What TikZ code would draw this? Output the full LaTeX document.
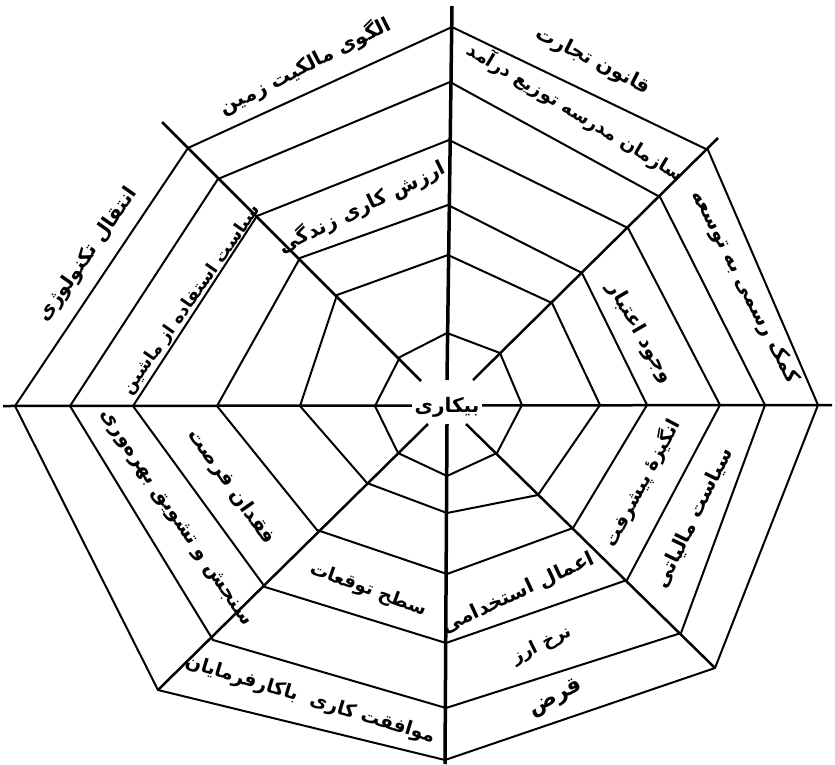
\documentclass[tikz,border=0pt]{standalone}
\usepackage{fontspec}
\usepackage{tikz}
\newfontfamily\arabicfont[Script=Arabic]{DejaVu Sans}
\TeXXeTstate=1
\newcommand{\fatext}[1]{\arabicfont\bfseries\beginR #1\endR}

\begin{document}
\begin{tikzpicture}[x=1pt,y=-1pt,ring/.style={line width=2pt, line join=miter},spoke/.style={line width=2.5pt},lbl/.style={font=\fontsize{20}{22}\selectfont, inner sep=1pt}]
\useasboundingbox (0,0) rectangle (835,764);
% web corners, outer ring first
\coordinate (n1) at (452,27); \coordinate (ne1) at (708,150); \coordinate (e1) at (818,405); \coordinate (se1) at (715,668); \coordinate (s1) at (445,760); \coordinate (sw1) at (158,690); \coordinate (w1) at (15,406); \coordinate (nw1) at (188,148);
\coordinate (n2) at (450,82); \coordinate (ne2) at (660,197); \coordinate (e2) at (765,405); \coordinate (se2) at (681,633); \coordinate (s2) at (446,708); \coordinate (sw2) at (213,640); \coordinate (w2) at (70,406); \coordinate (nw2) at (218,179);
\coordinate (n3) at (449,140); \coordinate (ne3) at (628,228); \coordinate (e3) at (720,405); \coordinate (se3) at (627,580); \coordinate (s3) at (446,643); \coordinate (sw3) at (265,587); \coordinate (w3) at (133,406); \coordinate (nw3) at (257,216);
\coordinate (n4) at (448,205); \coordinate (ne4) at (582,273); \coordinate (e4) at (647,405); \coordinate (se4) at (573,528); \coordinate (s4) at (447,574); \coordinate (sw4) at (317,530); \coordinate (w4) at (217,406); \coordinate (nw4) at (300,258);
\coordinate (n5) at (448,255); \coordinate (ne5) at (552,303); \coordinate (e5) at (600,405); \coordinate (se5) at (538,495); \coordinate (s5) at (447,513); \coordinate (sw5) at (367,483); \coordinate (w5) at (300,406); \coordinate (nw5) at (337,295);
\coordinate (n6) at (447,333); \coordinate (ne6) at (500,353); \coordinate (e6) at (522,405); \coordinate (se6) at (497,453); \coordinate (s6) at (447,476); \coordinate (sw6) at (398,453); \coordinate (w6) at (375,406); \coordinate (nw6) at (400,357);
% spoke ends
\coordinate (nTop) at (452,6); \coordinate (sBot) at (445,764); \coordinate (wEnd) at (3,406); \coordinate (eEnd) at (832,405);
\coordinate (nwEnd) at (162,122); \coordinate (neEnd) at (718,138);
\coordinate (nIn) at (447,380); \coordinate (sIn) at (447,424); \coordinate (nwIn) at (421,381); \coordinate (neIn) at (473,380); \coordinate (seIn) at (466,424); \coordinate (swIn) at (428,424);
% rings
\draw[ring] (n1)--(ne1)--(e1)--(se1)--(s1)--(sw1)--(w1)--(nw1)--cycle;
\draw[ring] (n2)--(ne2)--(e2)--(se2)--(s2)--(sw2)--(w2)--(nw2)--cycle;
\draw[ring] (n3)--(ne3)--(e3)--(se3)--(s3)--(sw3)--(w3)--(nw3)--cycle;
\draw[ring] (n4)--(ne4)--(e4)--(se4)--(s4)--(sw4)--(w4)--(nw4)--cycle;
\draw[ring] (n5)--(ne5)--(e5)--(se5)--(s5)--(sw5)--(w5)--(nw5)--cycle;
\draw[ring] (n6)--(ne6)--(e6)--(se6)--(s6)--(sw6)--(w6)--(nw6)--cycle;
% spokes
\draw[spoke, line width=3.5pt] (nTop)--(nIn); \draw[spoke, line width=3.5pt] (sIn)--(sBot);
\draw[spoke] (wEnd)--(eEnd);
\draw[spoke] (nwEnd)--(nwIn); \draw[spoke] (neEnd)--(neIn); \draw[spoke] (se1)--(seIn); \draw[spoke] (sw1)--(swIn);
% labels
\node[lbl, fill=white, inner sep=3pt] (core) at (447,407) {\fatext{بیکاری}};
\node[lbl, rotate=27] (land) at (305,66) {\fatext{الگوی مالکیت زمین}};
\node[lbl, rotate=-27] (trade) at (593,61) {\fatext{قانون تجارت}};
\node[lbl, rotate=-31, font=\fontsize{18.5}{20}\selectfont] (income) at (576,112) {\fatext{سازمان مدرسه توزیع درآمد}};
\node[lbl, rotate=-63] (aid) at (745,287) {\fatext{کمک رسمی به توسعه}};
\node[lbl, rotate=-60] (credit) at (640,333) {\fatext{وجود اعتبار}};
\node[lbl, rotate=62, font=\fontsize{19}{21}\selectfont] (motive) at (642,483) {\fatext{انگیزهٔ پیشرفت}};
\node[lbl, rotate=64] (tax) at (694,518) {\fatext{سیاست مالیاتی}};
\node[lbl, rotate=25] (hiring) at (518,593) {\fatext{اعمال استخدامی}};
\node[lbl, rotate=26, font=\fontsize{18}{20}\selectfont] (rate) at (542,645) {\fatext{نرخ ارز}};
\node[lbl, rotate=28, font=\fontsize{22}{24}\selectfont] (loan) at (556,698) {\fatext{قرض}};
\node[lbl, rotate=-17, font=\fontsize{19}{21}\selectfont] (deal) at (310,700) {\fatext{موافقت کاری\ \ باکارفرمایان}};
\node[lbl, rotate=-20, font=\fontsize{18.5}{20}\selectfont] (expect) at (368,590) {\fatext{سطح توقعات}};
\node[lbl, rotate=-55] (chance) at (231,487) {\fatext{فقدان فرصت}};
\node[lbl, rotate=-56] (measure) at (175,518) {\fatext{سنجش و تشویق بهره‌وری}};
\node[lbl, rotate=55, font=\fontsize{17.5}{19}\selectfont] (machine) at (192,300) {\fatext{سیاست استفاده از ماشین}};
\node[lbl, rotate=55] (tech) at (88,255) {\fatext{انتقال تکنولوژی}};
\node[lbl, rotate=26] (worth) at (362,207) {\fatext{ارزش کاری زندگی}};
\end{tikzpicture}
\end{document}
